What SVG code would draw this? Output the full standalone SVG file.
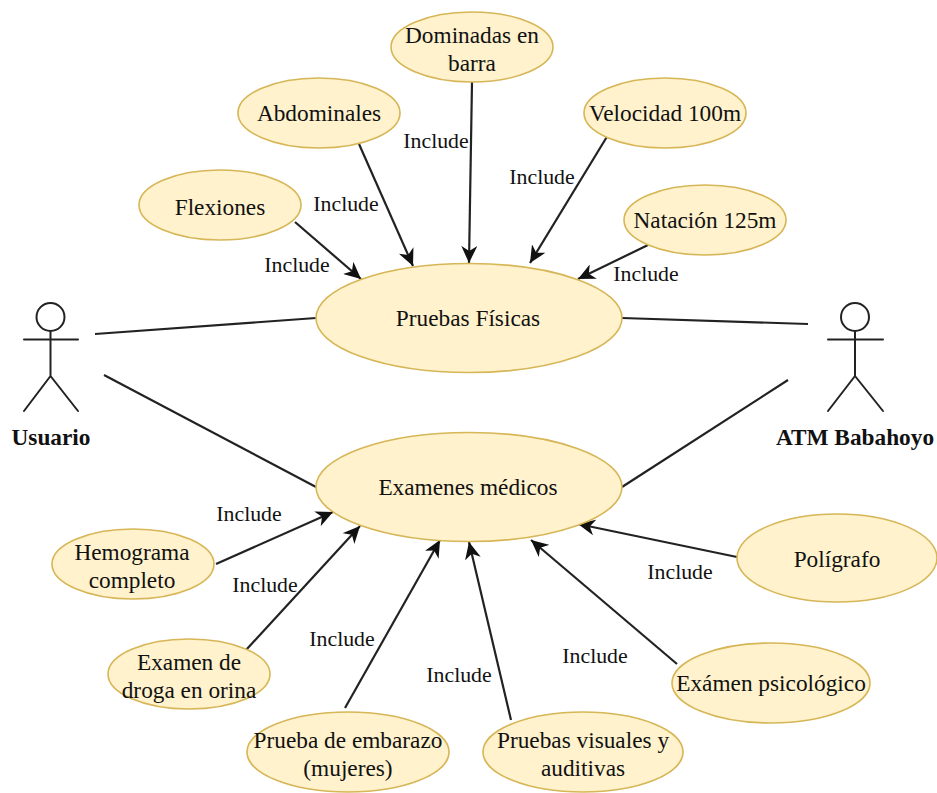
<svg xmlns="http://www.w3.org/2000/svg" width="937" height="793" viewBox="0 0 937 793">
<style>
text{font-family:"Liberation Serif","Times New Roman",serif;font-size:23.3px;fill:#111;text-anchor:middle}
.b{font-weight:bold}
#labels text{font-size:21.8px}
ellipse{fill:#fff2cc;stroke:#d6b656;stroke-width:1.6}
.c line{stroke:#222;stroke-width:2.200}
.a{fill:none;stroke:#222;stroke-width:2;stroke-linecap:round}
.h{fill:#fff}
</style>
<defs>
<marker id="m" viewBox="0 0 18 16" refX="17" refY="8" markerWidth="18" markerHeight="16" markerUnits="userSpaceOnUse" orient="auto"><path d="M0 0L17 8L0 16L5 8Z" fill="#111"/></marker>
</defs>
<rect width="937" height="793" fill="#fff"/>
<g id="connectors" class="c">
<line x1="95" y1="334" x2="316" y2="318"/>
<line x1="104" y1="375" x2="316" y2="487"/>
<line x1="622" y1="318" x2="808" y2="324"/>
<line x1="622" y1="487" x2="788" y2="380"/>
<line x1="295" y1="222" x2="361" y2="279" marker-end="url(#m)"/>
<line x1="359" y1="144" x2="413" y2="266" marker-end="url(#m)"/>
<line x1="472" y1="82" x2="469" y2="263" marker-end="url(#m)"/>
<line x1="608" y1="135" x2="530" y2="263" marker-end="url(#m)"/>
<line x1="648" y1="245" x2="578" y2="279" marker-end="url(#m)"/>
<line x1="216" y1="564" x2="333" y2="512" marker-end="url(#m)"/>
<line x1="246" y1="650" x2="360" y2="526" marker-end="url(#m)"/>
<line x1="345" y1="708" x2="440" y2="540" marker-end="url(#m)"/>
<line x1="511" y1="720" x2="469" y2="542" marker-end="url(#m)"/>
<line x1="677" y1="664" x2="531" y2="540" marker-end="url(#m)"/>
<line x1="737" y1="557" x2="578" y2="524" marker-end="url(#m)"/>
</g>
<g id="actor-usuario">
<circle class="a h" cx="50.500" cy="317" r="14"/>
<path class="a" d="M50.500 331V376M24 339.500H78M50.500 376L24 411M50.500 376L78 411"/>
<text class="b" x="51" y="445">Usuario</text>
</g>
<g id="actor-atm">
<circle class="a h" cx="855" cy="317" r="14"/>
<path class="a" d="M855 331V376M828 339.500H883M855 376L828 411M855 376L883 411"/>
<text class="b" x="855" y="445">ATM Babahoyo</text>
</g>
<g id="pruebas-fisicas"><ellipse cx="469" cy="318" rx="153" ry="54.500"/><text x="468" y="326">Pruebas Físicas</text></g>
<g id="examenes-medicos"><ellipse cx="469" cy="487" rx="153" ry="54.500"/><text x="468" y="495">Examenes médicos</text></g>
<g id="flexiones"><ellipse cx="220" cy="205" rx="81" ry="35"/><text x="220" y="215">Flexiones</text></g>
<g id="abdominales"><ellipse cx="319" cy="113" rx="81" ry="35"/><text x="319" y="121">Abdominales</text></g>
<g id="dominadas"><ellipse cx="472" cy="47" rx="81" ry="35"/><text x="472" y="43">Dominadas en</text><text x="472" y="71">barra</text></g>
<g id="velocidad"><ellipse cx="665" cy="113" rx="81" ry="35"/><text x="665" y="121">Velocidad 100m</text></g>
<g id="natacion"><ellipse cx="705" cy="220" rx="81" ry="35"/><text x="705" y="228">Natación 125m</text></g>
<g id="hemograma"><ellipse cx="133" cy="564" rx="81" ry="35"/><text x="132" y="560">Hemograma</text><text x="132" y="588">completo</text></g>
<g id="droga"><ellipse cx="189" cy="674" rx="81" ry="35"/><text x="189" y="670">Examen de</text><text x="189" y="698">droga en orina</text></g>
<g id="embarazo"><ellipse cx="348" cy="752" rx="101" ry="40"/><text x="348" y="748">Prueba de embarazo</text><text x="348" y="776">(mujeres)</text></g>
<g id="visuales"><ellipse cx="583" cy="752" rx="100" ry="40"/><text x="583" y="748">Pruebas visuales y</text><text x="583" y="776">auditivas</text></g>
<g id="psicologico"><ellipse cx="771" cy="683" rx="99" ry="40"/><text x="771" y="691">Exámen psicológico</text></g>
<g id="poligrafo"><ellipse cx="837" cy="558" rx="100" ry="44"/><text x="837" y="567">Polígrafo</text></g>
<g id="labels">
<text x="297" y="272">Include</text>
<text x="346" y="211">Include</text>
<text x="436" y="148">Include</text>
<text x="542" y="184">Include</text>
<text x="646" y="281">Include</text>
<text x="249" y="521">Include</text>
<text x="265" y="592">Include</text>
<text x="342" y="646">Include</text>
<text x="459" y="682">Include</text>
<text x="595" y="663">Include</text>
<text x="680" y="579">Include</text>
</g>
</svg>
